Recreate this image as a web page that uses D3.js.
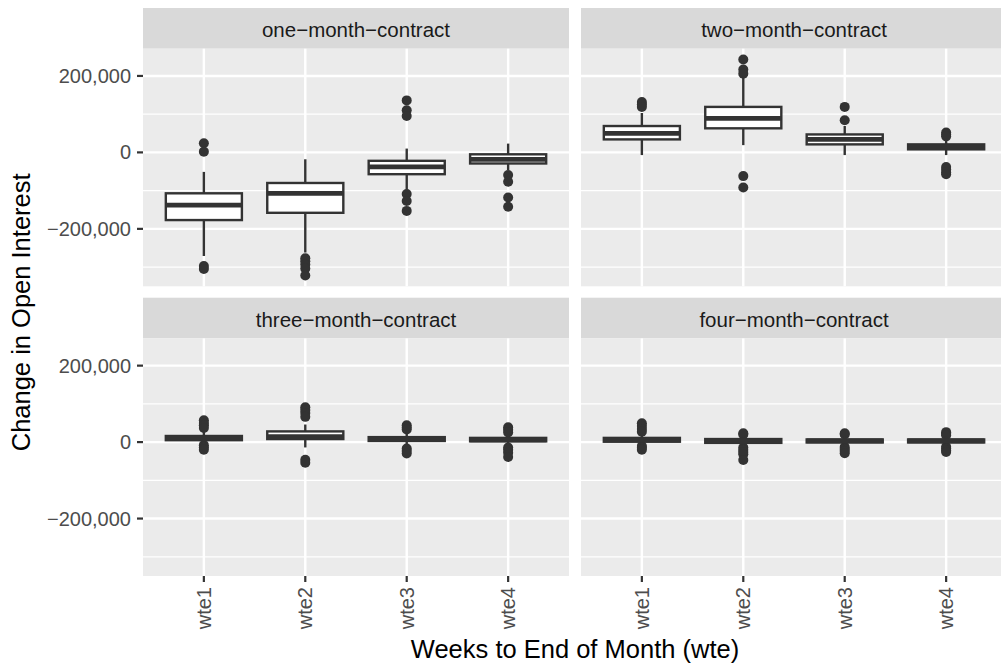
<!DOCTYPE html>
<html lang="en">
<head>
    <meta charset="utf-8">
    <title>Change in Open Interest</title>
    <script src="https://d3js.org/d3.v7.min.js"></script>
    <style>
        body { margin: 0; background: #fff; }
        text { font-family: "Liberation Sans", Arial, sans-serif; }
    </style>
</head>
<body>
<script type="text/javascript">
    // facets and categories
    var contracts = ["one-month-contract", "two-month-contract", "three-month-contract", "four-month-contract"];
    var weeks = ["wte1", "wte2", "wte3", "wte4"];

    // box statistics, one row per contract, one value per week
    var whiskerLow = [
        [-271000, -262000, -98000, -46000],
        [-7000, 19000, -7000, -7000],
        [-4000, -14000, -8000, -8000],
        [-6000, -10000, -9000, -8000]
    ];
    var lowerQ = [
        [-177000, -158000, -57000, -29000],
        [34000, 63000, 21000, 8000],
        [5000, 8000, 3000, 2000],
        [1000, -2000, -1000, -1000]
    ];
    var medians = [
        [-138000, -107000, -38000, -18000],
        [50000, 89000, 34000, 15000],
        [11000, 14000, 8000, 6000],
        [6000, 3000, 3000, 3000]
    ];
    var upperQ = [
        [-107000, -80000, -22000, -5000],
        [69000, 119000, 47000, 21000],
        [16000, 28000, 13000, 11000],
        [11000, 8000, 7000, 7000]
    ];
    var whiskerHigh = [
        [-51000, -18000, 10000, 23000],
        [103000, 198000, 69000, 35000],
        [30000, 46000, 24000, 20000],
        [20000, 16000, 16000, 15000]
    ];
    var outliers = [
        [[24000, 2000, -297000, -305000],
         [-277000, -285000, -293000, -304000, -322000],
         [136000, 110000, 95000, -109000, -127000, -153000],
         [-59000, -77000, -118000, -142000]],
        [[132000, 125000, 119000],
         [243000, 217000, 206000, -62000, -92000],
         [119000, 84000],
         [52000, 47000, 42000, -38000, -45000, -52000, -57000]],
        [[57000, 50000, 44000, 37000, -8000, -14000, -20000],
         [91000, 84000, 76000, 66000, -46000, -54000],
         [44000, 38000, 33000, -17000, -23000, -30000],
         [39000, 32000, 25000, -14000, -20000, -28000, -39000]],
        [[49000, 42000, 34000, 27000, -10000, -15000, -20000],
         [23000, 20000, -14000, -20000, -26000, -32000, -47000],
         [23000, 20000, -13000, -18000, -23000, -29000],
         [26000, 22000, 18000, -12000, -17000, -22000, -26000]]
    ];
    var yMajor = [-200000, 0, 200000];
    var yMinor = [-300000, -100000, 100000];

    var width = 1001, height = 666;
    var panelW = 426, panelH = 237.6, stripH = 40.7;
    var colX = [143, 581], rowY = [8, 297.7];

    var svg = d3.select("body")
            .append("svg")
            .attr("width", width)
            .attr("height", height);

    // shared y range (5% expansion like ggplot)
    var allVals = d3.merge([d3.merge(whiskerLow), d3.merge(whiskerHigh), d3.merge(outliers.map(function(r){ return d3.merge(r); }))]);
    var yMin = d3.min(allVals), yMax = d3.max(allVals);
    var pad = (yMax - yMin) * 0.05;

    var y = d3.scaleLinear()
            .domain([yMin - pad, yMax + pad])
            .range([panelH, 0]);

    var x = d3.scalePoint()
            .domain(weeks)
            .range([0, panelW])
            .padding(0.6);

    var boxW = x.step() * 0.75;
    var fmt = d3.format(",");
    var dark = "#333333";

    contracts.forEach(function(name, ci) {
        var col = ci % 2, row = Math.floor(ci / 2);
        var g = svg.append("g")
                .attr("transform", "translate(" + colX[col] + "," + rowY[row] + ")");

        // strip (R draws the hyphens as minus signs)
        g.append("rect")
            .attr("width", panelW).attr("height", stripH)
            .attr("fill", "#D9D9D9");
        g.append("text")
            .attr("x", panelW / 2).attr("y", stripH / 2 + 1)
            .attr("text-anchor", "middle")
            .attr("dominant-baseline", "central")
            .attr("font-size", "20.5px")
            .attr("fill", "#1A1A1A")
            .text(name.replace(/-/g, "\u2212"));

        var p = g.append("g").attr("transform", "translate(0," + stripH + ")");

        p.append("rect")
            .attr("width", panelW).attr("height", panelH)
            .attr("fill", "#EBEBEB");

        // grid
        p.selectAll(".minor").data(yMinor).enter().append("line")
            .attr("x1", 0).attr("x2", panelW)
            .attr("y1", function(d){ return y(d); }).attr("y2", function(d){ return y(d); })
            .attr("stroke", "#fff").attr("stroke-width", 1.2);
        p.selectAll(".major").data(yMajor).enter().append("line")
            .attr("x1", 0).attr("x2", panelW)
            .attr("y1", function(d){ return y(d); }).attr("y2", function(d){ return y(d); })
            .attr("stroke", "#fff").attr("stroke-width", 2.4);
        p.selectAll(".vgrid").data(weeks).enter().append("line")
            .attr("x1", function(d){ return x(d); }).attr("x2", function(d){ return x(d); })
            .attr("y1", 0).attr("y2", panelH)
            .attr("stroke", "#fff").attr("stroke-width", 2.4);

        weeks.forEach(function(wk, wi) {
            var cx = x(wk);
            // outliers first
            p.selectAll(null).data(outliers[ci][wi]).enter().append("circle")
                .attr("cx", cx).attr("cy", function(d){ return y(d); })
                .attr("r", 5)
                .attr("fill", dark);
            // whiskers
            p.append("line")
                .attr("x1", cx).attr("x2", cx)
                .attr("y1", y(whiskerHigh[ci][wi])).attr("y2", y(upperQ[ci][wi]))
                .attr("stroke", dark).attr("stroke-width", 2.4);
            p.append("line")
                .attr("x1", cx).attr("x2", cx)
                .attr("y1", y(lowerQ[ci][wi])).attr("y2", y(whiskerLow[ci][wi]))
                .attr("stroke", dark).attr("stroke-width", 2.4);
            // box
            p.append("rect")
                .attr("x", cx - boxW / 2)
                .attr("y", y(upperQ[ci][wi]))
                .attr("width", boxW)
                .attr("height", y(lowerQ[ci][wi]) - y(upperQ[ci][wi]))
                .attr("fill", "#fff")
                .attr("stroke", dark).attr("stroke-width", 2.4);
            p.append("line")
                .attr("x1", cx - boxW / 2).attr("x2", cx + boxW / 2)
                .attr("y1", y(medians[ci][wi])).attr("y2", y(medians[ci][wi]))
                .attr("stroke", dark).attr("stroke-width", 4.8);
        });

        // y axis on left column
        if (col == 0) {
            p.selectAll(".ytick").data(yMajor).enter().append("line")
                .attr("x1", -6).attr("x2", 0)
                .attr("y1", function(d){ return y(d); }).attr("y2", function(d){ return y(d); })
                .attr("stroke", dark).attr("stroke-width", 2.2);
            p.selectAll(".ylab").data(yMajor).enter().append("text")
                .attr("x", -12).attr("y", function(d){ return y(d); })
                .attr("text-anchor", "end")
                .attr("dominant-baseline", "central")
                .attr("font-size", "20px")
                .attr("fill", "#4D4D4D")
                .text(function(d){ return fmt(d); });
        }

        // x axis on bottom row
        if (row == 1) {
            p.selectAll(".xtick").data(weeks).enter().append("line")
                .attr("x1", function(d){ return x(d); }).attr("x2", function(d){ return x(d); })
                .attr("y1", panelH).attr("y2", panelH + 6)
                .attr("stroke", dark).attr("stroke-width", 2.2);
            p.selectAll(".xlab").data(weeks).enter().append("text")
                .attr("transform", function(d){ return "translate(" + x(d) + "," + (panelH + 11) + ") rotate(-90)"; })
                .attr("text-anchor", "end")
                .attr("dominant-baseline", "central")
                .attr("font-size", "20px")
                .attr("fill", "#4D4D4D")
                .text(function(d){ return d; });
        }
    });

    // axis titles
    svg.append("text")
        .attr("x", (colX[0] + colX[1] + panelW) / 2)
        .attr("y", 658)
        .attr("text-anchor", "middle")
        .attr("font-size", "25.5px")
        .attr("fill", "#000")
        .text("Weeks to End of Month (wte)");

    svg.append("text")
        .attr("transform", "translate(30," + (rowY[0] + stripH + rowY[1] + stripH + panelH) / 2 + ") rotate(-90)")
        .attr("text-anchor", "middle")
        .attr("font-size", "25.5px")
        .attr("fill", "#000")
        .text("Change in Open Interest");
</script>
</body>
</html>
